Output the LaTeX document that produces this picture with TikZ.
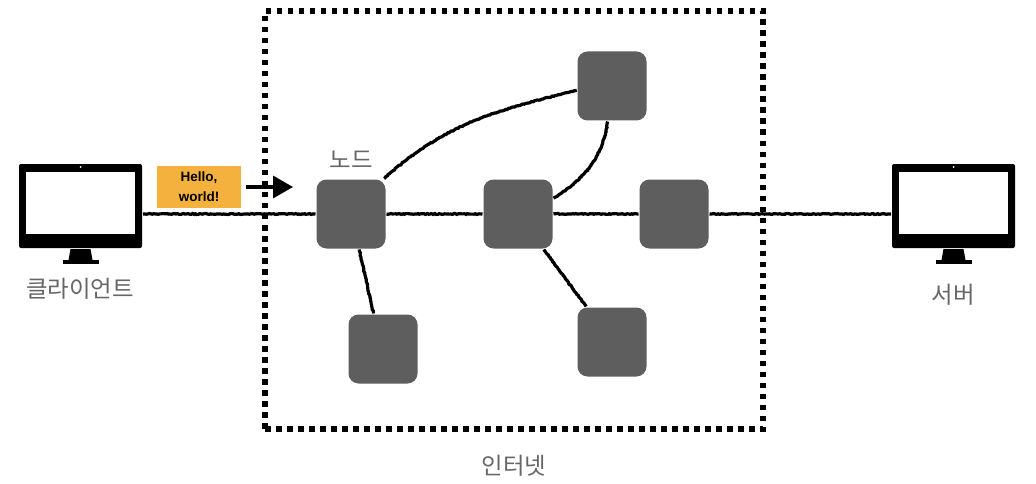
\documentclass[tikz,border=0pt]{standalone}
\usepackage{fontspec}
\setmainfont{Liberation Sans}
\newfontfamily\krfont{Noto Sans CJK KR}
\usepackage{tikz}
\usetikzlibrary{positioning}
\usetikzlibrary{arrows.meta}
\usetikzlibrary{decorations.pathmorphing}
\definecolor{nodegray}{HTML}{5E5E5E}
\definecolor{labelgray}{HTML}{666666}
\definecolor{msgorange}{HTML}{F4B13D}
\tikzset{
net_node/.style={rectangle, rounded corners=10pt, fill=nodegray, minimum size=69pt, inner sep=0pt, outer sep=1pt},
monitor/.style={rectangle, rounded corners=2pt, fill=black, minimum width=123pt, minimum height=84pt, inner sep=0pt, outer sep=1pt},
monitor_glass/.style={rectangle, fill=white, minimum width=109pt, minimum height=62pt, inner sep=0pt},
monitor_foot/.style={rectangle, fill=black, minimum width=36pt, minimum height=4pt, inner sep=0pt},
net_frame/.style={rectangle, draw, line width=5.2pt, dash pattern=on 5.5pt off 5.5pt, minimum width=498pt, minimum height=418pt},
message/.style={rectangle, fill=msgorange, minimum width=84pt, minimum height=42pt, inner sep=0pt, align=center, font=\fontsize{13.5}{20}\selectfont\bfseries},
label_text/.style={text=labelgray, inner sep=0pt, font=\krfont\fontsize{23.4}{26}\selectfont},
rough/.style={line width=3.2pt, decorate, decoration={random steps, segment length=1.5pt, amplitude=0.45pt}}
}
\newcommand{\monitorparts}[1]{
    \node[monitor_glass] (#1_glass) at ([yshift=3pt]#1.center) {};
    \node[monitor_foot] (#1_foot) [below=11pt of #1] {};
    \fill ([xshift=-10pt]#1.south) -- ([xshift=10pt]#1.south) -- ([xshift=12pt]#1_foot.north) -- ([xshift=-12pt]#1_foot.north) -- cycle;
    \fill[white] ([yshift=-4pt]#1.north) circle (1pt);
}
\begin{document}
\begin{tikzpicture}[x=1pt, y=-1pt]
    \pgfmathsetseed{7}
    \useasboundingbox (0,0) rectangle (1036,484);
    \node[net_frame] (internet) at (514,220) {};
    \node[label_text] (internet_label) [below=23pt of internet] {인터넷};

    \node[monitor] (client) at (80.5,206) {};
    \monitorparts{client}
    \node[label_text] (client_label) at (80,289) {클라이언트};
    \node[monitor] (server) at (953.5,206) {};
    \monitorparts{server}
    \node[label_text] (server_label) at (953,295) {서버};

    \node[net_node] (node_a) at (351,214) {};
    \node[net_node] (node_b) at (518,214) {};
    \node[net_node] (node_c) at (674,214) {};
    \node[net_node] (node_d) at (612,86) {};
    \node[net_node] (node_e) at (383,349) {};
    \node[net_node] (node_f) at (612,342) {};
    \node[label_text] (node_label) [above=10pt of node_a] {노드};

    \node[message] (hello) at (199,187) {Hello,\\world!};
    \coordinate (hello_tip) at (293,187);

    \draw[rough] (client.east |- node_a.west) -- (node_a.west);
    \draw[rough] (node_a.east) -- (node_b.west);
    \draw[rough] (node_b.east) -- (node_c.west);
    \draw[rough] (node_c.east) -- (server.west |- node_c.east);
    \draw[rough] (node_a.47) to[out=42, in=194] (node_d.187);
    \draw[rough] (node_d.263) to[out=-98, in=32] (node_b.24);
    \draw[rough] (node_a.-77) -- (node_e.105);
    \draw[rough] (node_b.-54) -- (node_f.126);
    \draw[line width=3.5pt, -{Triangle[length=20pt, width=22pt]}, shorten <=5pt] (hello) -- (hello_tip);
\end{tikzpicture}
\end{document}
